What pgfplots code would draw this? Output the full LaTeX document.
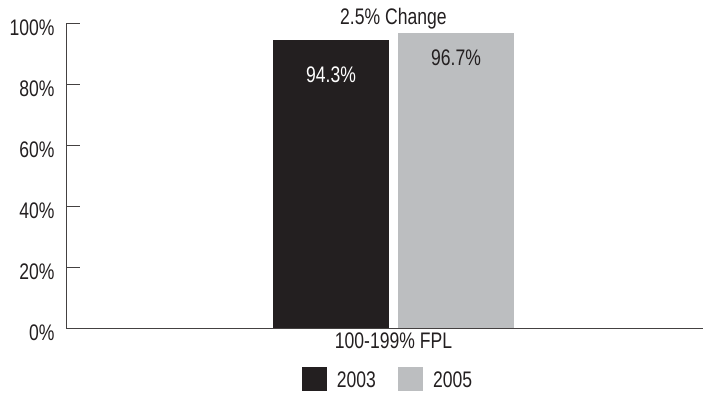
\documentclass[border=0pt]{standalone}
\usepackage{pgfplots}
\pgfplotsset{compat=1.18}
\usepackage{fontspec}
\setmainfont{Liberation Sans}[FakeStretch=0.78]
\definecolor{dk}{HTML}{231F20}
\definecolor{gr}{HTML}{BCBEC0}
\newcommand{\bigf}{\fontsize{22.5}{26}\selectfont}
\begin{document}
\begin{tikzpicture}
\useasboundingbox (0,0) rectangle (703pt,392pt);
\begin{axis}[
  at={(66pt,64pt)}, anchor=south west,
  scale only axis, width=637pt, height=305pt,
  xmin=0, xmax=637, ymin=0, ymax=100,
  axis lines*=left,
  axis line style={draw=dk!85, line width=1pt},
  clip=false,
  ytick={0,20,40,60,80,100},
  yticklabel={\pgfmathprintnumber{\tick}\%},
  /pgf/number format/assume math mode=true,
  y tick label style={font=\bigf, text=dk, yshift=-5pt, xshift=-8pt},
  x tick label style={font=\bigf, text=dk},
  tick align=inside,
  major tick length=14pt,
  tick style={draw=dk!85, line width=1pt},
  xtick={327.5}, xticklabels={100-199\% FPL},
  x tick style={draw=none},
  xticklabel style={yshift=-1pt},
  legend columns=2,
  legend style={draw=none, fill=none, font=\bigf, text=dk,
    at={(0.5055,-0.168)}, anchor=center,
    /tikz/every odd column/.append style={column sep=8pt},
    /tikz/every even column/.append style={column sep=20pt}},
  legend image code/.code={\fill[#1] (0pt,-11pt) rectangle (25pt,13pt);},
]
\addplot[ybar, bar width=116, bar shift=0pt, fill=dk, draw=none,
  nodes near coords={\pgfmathprintnumber{\pgfplotspointmeta}\%},
  nodes near coords style={font=\bigf, text=white, anchor=center, yshift=-34pt}]
  coordinates {(265,94.3)};
\addlegendentry{2003}
\addplot[ybar, bar width=116, bar shift=0pt, fill=gr, draw=none,
  nodes near coords={\pgfmathprintnumber{\pgfplotspointmeta}\%},
  nodes near coords style={font=\bigf, text=dk, anchor=center, yshift=-25pt}]
  coordinates {(390,96.7)};
\addlegendentry{2005}
\node[font=\bigf, text=dk] at (axis cs:327.4,101.3) {2.5\% Change};
\end{axis}
\end{tikzpicture}
\end{document}
